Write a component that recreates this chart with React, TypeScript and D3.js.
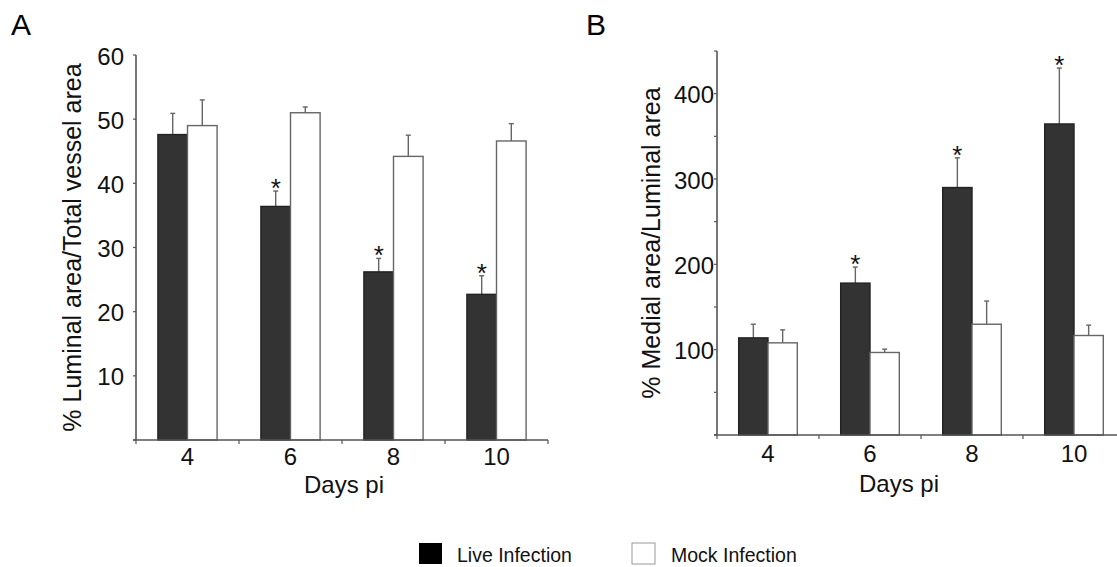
import React from 'react';
import * as d3 from 'd3';

// days post infection
const days = ['4', '6', '8', '10'];

// Panel A: % Luminal area / Total vessel area
const luminalLive = [47.6, 36.4, 26.2, 22.7];
const luminalLiveErr = [3.3, 2.4, 2.1, 2.9];
const luminalMock = [49.0, 51.0, 44.2, 46.6];
const luminalMockErr = [4.0, 0.9, 3.3, 2.7];
const luminalSig = [false, true, true, true];
const luminalTicks = [0, 10, 20, 30, 40, 50, 60];
const luminalTickLabels = ['', '10', '20', '30', '40', '50', '60'];

// Panel B: % Medial area / Luminal area
const medialLive = [113.8, 178, 290, 364.5];
const medialLiveErr = [16, 18.8, 34.8, 65.5];
const medialMock = [108, 96.7, 129.8, 116.6];
const medialMockErr = [15.2, 3.9, 27.2, 12.1];
const medialSig = [false, true, true, true];
const medialTicks = [0, 50, 100, 150, 200, 250, 300, 350, 400, 450];
const medialTickLabels = ['', '', '100', '', '200', '', '300', '', '400', ''];

const seriesNames = ['Live Infection', 'Mock Infection'];

const FONT = '"Liberation Sans", Arial, sans-serif';
const DARK = '#333333';
const AXIS = '#555555';

type PanelProps = {
    letter: string;
    letterX: number;
    left: number;
    right: number;
    top: number;
    bottom: number;
    yMax: number;
    ticks: number[];
    tickLabels: string[];
    tickGap: number;
    live: number[];
    liveErr: number[];
    mock: number[];
    mockErr: number[];
    sig: boolean[];
    yLabel: string;
    yLabelX: number;
    xLabelX: number;
    xTickDy: number;
    xLabelDy: number;
};

const Panel = (p: PanelProps) => {
    const x0 = d3.scaleBand().domain(days).range([p.left, p.right]);
    const x1 = d3.scaleBand()
        .domain(seriesNames)
        .range([0, x0.bandwidth()])
        .paddingOuter(0.74)
        .paddingInner(0);
    const y = d3.scaleLinear().domain([0, p.yMax]).range([p.bottom, p.top]);
    const bw = x1.bandwidth();

    const bars = days.flatMap((d, i) => [
        { day: d, key: seriesNames[0], v: p.live[i], e: p.liveErr[i], fill: DARK, stroke: '#222', sig: p.sig[i] },
        { day: d, key: seriesNames[1], v: p.mock[i], e: p.mockErr[i], fill: '#ffffff', stroke: '#666', sig: false },
    ]);

    const boundaries = [...days.map(d => x0(d) as number), p.right];

    return (
        <g fontFamily={FONT}>
            <text x={p.letterX} y={35} fontSize={30} fill="#000">{p.letter}</text>

            {/* bars */}
            {bars.map((b, i) => {
                const bx = (x0(b.day) as number) + (x1(b.key) as number);
                const cx = bx + bw / 2;
                const yTop = y(b.v);
                const yErr = y(b.v + b.e);
                return (
                    <g key={i}>
                        <line x1={cx} x2={cx} y1={yTop} y2={yErr} stroke="#666" strokeWidth={1.4} />
                        <line x1={cx - 2.5} x2={cx + 2.5} y1={yErr} y2={yErr} stroke="#666" strokeWidth={1.4} />
                        <rect x={bx} y={yTop} width={bw} height={p.bottom - yTop}
                            fill={b.fill} stroke={b.stroke} strokeWidth={1.4} />
                        {b.sig && (
                            <text x={cx} y={yErr + 6} textAnchor="middle" fontSize={26} fill="#111">*</text>
                        )}
                    </g>
                );
            })}

            {/* y axis */}
            <line x1={p.left} x2={p.left} y1={p.top} y2={p.bottom} stroke={AXIS} strokeWidth={1.6} />
            {p.ticks.map((t, i) => (
                <g key={t}>
                    <line x1={p.left - 3} x2={p.left} y1={y(t)} y2={y(t)} stroke={AXIS} strokeWidth={1.2} />
                    <text x={p.left - p.tickGap} y={y(t)} dy="0.4em" textAnchor="end" fontSize={24} fill="#111">
                        {p.tickLabels[i]}
                    </text>
                </g>
            ))}

            {/* x axis */}
            <line x1={p.left - 3} x2={p.right} y1={p.bottom} y2={p.bottom} stroke={AXIS} strokeWidth={1.6} />
            {boundaries.map((bx, i) => (
                <line key={i} x1={bx} x2={bx} y1={p.bottom} y2={p.bottom + 4} stroke={AXIS} strokeWidth={1.2} />
            ))}
            {days.map(d => (
                <text key={d} x={(x0(d) as number) + x0.bandwidth() / 2} y={p.bottom + p.xTickDy}
                    textAnchor="middle" fontSize={24} fill="#111">{d}</text>
            ))}
            <text x={p.xLabelX} y={p.bottom + p.xLabelDy} textAnchor="middle" fontSize={24} fill="#111">
                Days pi
            </text>

            <text transform={`translate(${p.yLabelX},${(p.top + p.bottom) / 2}) rotate(-90)`}
                dy="0.36em" textAnchor="middle" fontSize={25} fill="#111">{p.yLabel}</text>
        </g>
    );
};

export default function App() {
    return (
        <svg width={1117} height={567} style={{ position: 'absolute', left: 0, top: 0, background: '#fff' }}>
            <Panel letter="A" letterX={11} left={136} right={548} top={55} bottom={440} yMax={60}
                ticks={luminalTicks} tickLabels={luminalTickLabels} tickGap={12}
                live={luminalLive} liveErr={luminalLiveErr} mock={luminalMock} mockErr={luminalMockErr}
                sig={luminalSig} yLabel="% Luminal area/Total vessel area" yLabelX={72}
                xLabelX={344} xTickDy={25} xLabelDy={53} />
            <Panel letter="B" letterX={586} left={717} right={1125} top={51} bottom={435} yMax={450}
                ticks={medialTicks} tickLabels={medialTickLabels} tickGap={3}
                live={medialLive} liveErr={medialLiveErr} mock={medialMock} mockErr={medialMockErr}
                sig={medialSig} yLabel="% Medial area/Luminal area" yLabelX={651}
                xLabelX={899} xTickDy={27} xLabelDy={57} />

            {/* legend */}
            <g fontFamily={FONT} fontSize={19.5} fill="#111">
                <rect x={419} y={543} width={23} height={21} fill="#000" />
                <text x={457} y={562}>{seriesNames[0]}</text>
                <rect x={632} y={543} width={23} height={21} fill="#fff" stroke="#999" strokeWidth={1} />
                <text x={671} y={562}>{seriesNames[1]}</text>
            </g>
        </svg>
    );
}
